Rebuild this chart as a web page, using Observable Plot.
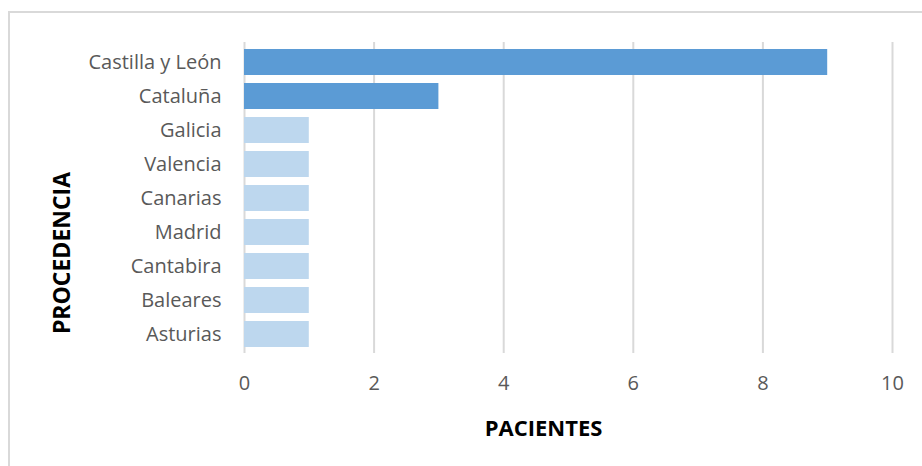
<!DOCTYPE html>
<html>
<head>
<meta charset="utf-8">
<script src="https://cdn.jsdelivr.net/npm/d3@7"></script>
<script src="https://cdn.jsdelivr.net/npm/@observablehq/plot@0.6"></script>
<style>
  html, body { margin: 0; padding: 0; background: #fff; }
  #wrap { position: relative; width: 922px; height: 466px; overflow: hidden; }
  #frame { position: absolute; left: 8px; top: 11px; width: 940px; height: 480px;
           border-left: 2px solid #d9d9d9; border-top: 2px solid #d9d9d9; }
  #chart { position: absolute; left: 0; top: 0; }
</style>
</head>
<body>
<div id="wrap"><div id="frame"></div><div id="chart"></div></div>
<script>
const categories = ["Castilla y León", "Cataluña", "Galicia", "Valencia", "Canarias", "Madrid", "Cantabira", "Baleares", "Asturias"];
const values = [9, 3, 1, 1, 1, 1, 1, 1, 1];
const xTicks = [0, 2, 4, 6, 8, 10];
const xLabel = "PACIENTES";
const yLabel = "PROCEDENCIA";

const data = categories.map((c, i) => ({category: c, value: values[i]}));
const font = "'Open Sans', sans-serif";

const chart = Plot.plot({
  width: 922,
  height: 466,
  marginLeft: 244,
  marginRight: 30,
  marginTop: 42,
  marginBottom: 113,
  style: {fontFamily: font, background: "transparent"},
  x: {domain: [0, 10], ticks: xTicks},
  y: {domain: categories, paddingInner: 0.25, paddingOuter: 0.12},
  marks: [
    Plot.ruleX(xTicks, {stroke: "#d9d9d9", strokeWidth: 2}),
    Plot.barX(data, {y: "category", x: "value", fill: d => d.value > 1 ? "#5b9bd5" : "#bdd7ee"}),
    Plot.axisX({ticks: xTicks, tickSize: 0, tickPadding: 22, fontSize: 20, fill: "#595959", label: null}),
    Plot.axisY({tickSize: 0, tickPadding: 23, fontSize: 20, fill: "#595959", label: null}),
    Plot.text([xLabel], {frameAnchor: "bottom", lineAnchor: "middle", textAnchor: "middle", dx: -25, dy: 75, fontSize: 22, fontWeight: "bold", fill: "#000"}),
    Plot.text([yLabel], {frameAnchor: "left", lineAnchor: "middle", textAnchor: "middle", rotate: -90, dx: -182, dy: 55, fontSize: 23, fontWeight: "bold", fill: "#000"})
  ]
});
document.getElementById("chart").appendChild(chart);
</script>
</body>
</html>
